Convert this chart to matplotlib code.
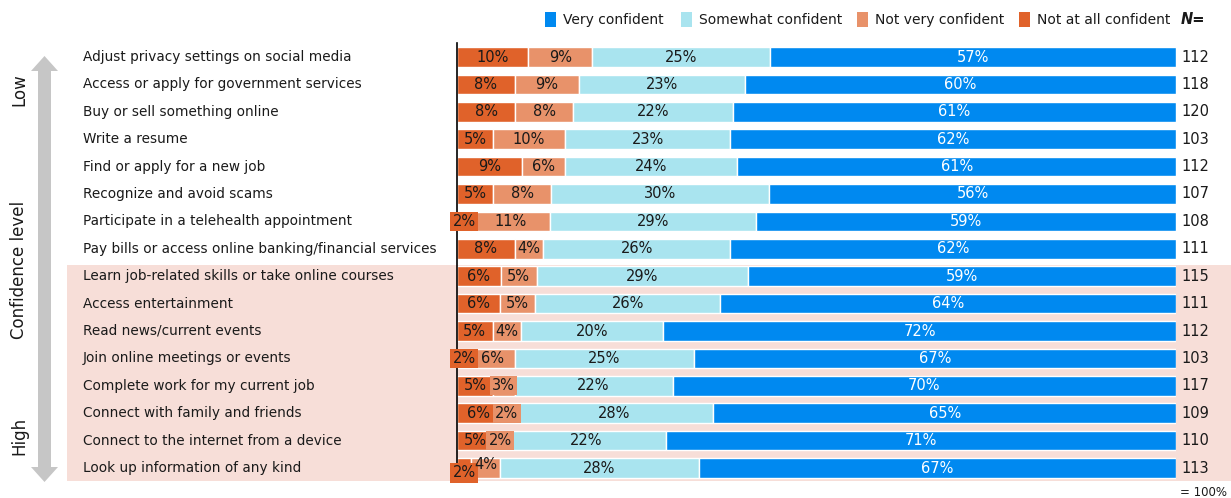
import numpy as np
import matplotlib.pyplot as plt
import matplotlib.patches as mpatches

plt.rcParams['font.family'] = ['DejaVu Sans']

items = [
    "Adjust privacy settings on social media",
    "Access or apply for government services",
    "Buy or sell something online",
    "Write a resume",
    "Find or apply for a new job",
    "Recognize and avoid scams",
    "Participate in a telehealth appointment",
    "Pay bills or access online banking/financial services",
    "Learn job-related skills or take online courses",
    "Access entertainment",
    "Read news/current events",
    "Join online meetings or events",
    "Complete work for my current job",
    "Connect with family and friends",
    "Connect to the internet from a device",
    "Look up information of any kind",
]
not_at_all = [10, 8, 8, 5, 9, 5, 2, 8, 6, 6, 5, 2, 5, 6, 5, 2]
not_very = [9, 9, 8, 10, 6, 8, 11, 4, 5, 5, 4, 6, 3, 2, 2, 4]
somewhat = [25, 23, 22, 23, 24, 30, 29, 26, 29, 26, 20, 25, 22, 28, 22, 28]
very = [57, 60, 61, 62, 61, 56, 59, 62, 59, 64, 72, 67, 70, 65, 71, 67]
n_resp = [112, 118, 120, 103, 112, 107, 108, 111, 115, 111, 112, 103, 117, 109, 110, 113]

series = ["Not at all confident", "Not very confident", "Somewhat confident", "Very confident"]
colors = ["#E0622A", "#E8926A", "#A9E4EF", "#0089F0"]
text_colors = ["#1a1a1a", "#1a1a1a", "#1a1a1a", "white"]

W, H = 1231, 498
fig = plt.figure(figsize=(W / 100, H / 100), dpi=100)

# background / decoration layer in pixel coords
bg = fig.add_axes([0, 0, 1, 1])
bg.set_xlim(0, W)
bg.set_ylim(H, 0)
bg.axis('off')
bg.add_patch(mpatches.Rectangle((67, 265), W - 67, 216, color="#F7DED8", lw=0))

# double-headed arrow
arrow_col = "#C6C6C6"
bg.add_patch(mpatches.Rectangle((38, 69), 13, 400, color=arrow_col, lw=0))
bg.fill([31, 44.5, 58], [71, 56, 71], color=arrow_col, lw=0)
bg.fill([31, 44.5, 58], [467, 482, 467], color=arrow_col, lw=0)
bg.text(19, 90, "Low", rotation=90, ha='center', va='center', fontsize=12, color="#1a1a1a")
bg.text(19, 270, "Confidence level", rotation=90, ha='center', va='center', fontsize=12, color="#1a1a1a")
bg.text(19, 436, "High", rotation=90, ha='center', va='center', fontsize=12, color="#1a1a1a")

# legend
leg_x = [545, 681, 857, 1019]
for name, col, x in zip(series[::-1], colors[::-1], leg_x):
    bg.add_patch(mpatches.Rectangle((x, 12), 11, 15, color=col, lw=0))
    bg.text(x + 18, 19.5, name, ha='left', va='center', fontsize=10, color="#1a1a1a")
bg.text(1181, 19.5, "N=", ha='left', va='center', fontsize=10.5, fontweight='bold',
        fontstyle='italic', color="#1a1a1a")
bg.text(1180, 492, "= 100%", ha='left', va='center', fontsize=8.5, color="#1a1a1a")

# bar axes
top_px, bot_px = 43.3, 481.7
ax = fig.add_axes([457 / W, 1 - bot_px / H, 719 / W, (bot_px - top_px) / H])
ax.patch.set_alpha(0)
ax.set_xlim(0, 100)
ax.set_ylim(len(items) - 0.5, -0.5)
for s in ['top', 'right', 'bottom']:
    ax.spines[s].set_visible(False)
ax.spines['left'].set_linewidth(1.2)
ax.set_xticks([])
ax.set_yticks([])

data = np.array([not_at_all, not_very, somewhat, very], dtype=float)
totals = data.sum(axis=0)
y = np.arange(len(items))
left = np.zeros(len(items))
for k in range(4):
    w = data[k] / totals * 100
    ax.barh(y, w, left=left, height=0.72, color=colors[k], edgecolor='white', linewidth=1)
    for i in range(len(items)):
        v = int(data[k][i])
        cx = left[i] + w[i] / 2
        cy = y[i]
        kw = {}
        if v <= 3:
            kw['bbox'] = dict(boxstyle='square,pad=0.15', fc=colors[k], ec='none')
        if i == len(items) - 1 and k == 0:
            cy += 0.18
        if i == len(items) - 1 and k == 1:
            cy -= 0.12
        ax.text(cx, cy, f"{v}%", ha='center', va='center', fontsize=10.5,
                color=text_colors[k], **kw)
    left += w

ytr = ax.get_yaxis_transform()
for i, name in enumerate(items):
    ax.text(-374 / 719, i, name, transform=ytr, ha='left', va='center', fontsize=9.8,
            color="#1a1a1a")
    ax.text(1.007, i, str(n_resp[i]), transform=ytr, ha='left', va='center', fontsize=10.5,
            color="#1a1a1a")

fig.savefig("out.png", dpi=100)
